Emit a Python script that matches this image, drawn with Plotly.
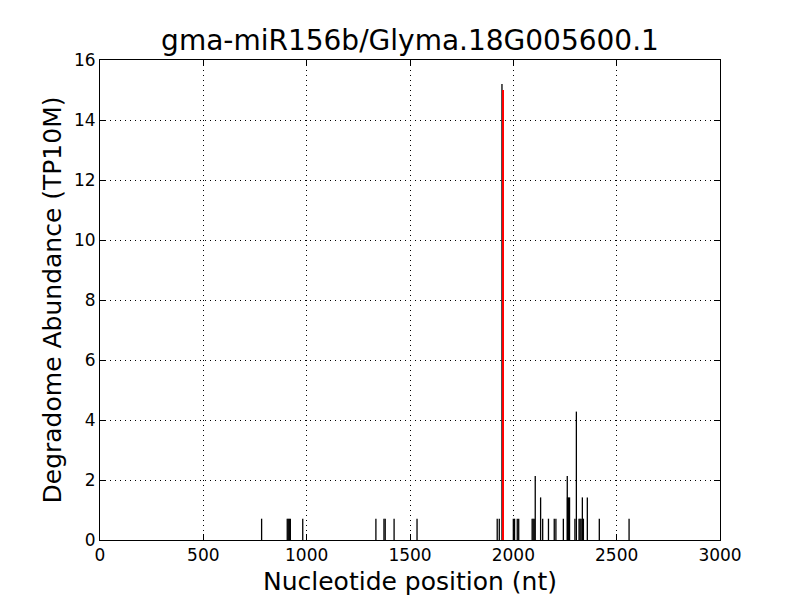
import plotly.graph_objects as go

# Degradome tags: positions (nt) and abundance (TP10M)
positions = [782, 906, 911, 916, 921, 981, 1335, 1374, 1380, 1423, 1534,
             1922, 1932, 1945, 2000, 2006, 2019, 2026, 2091, 2096, 2101, 2106,
             2132, 2142, 2170, 2198, 2206, 2242, 2261, 2262, 2267, 2272,
             2298, 2305, 2318, 2323, 2328, 2334, 2339, 2358, 2416, 2560]
abundance = [0.71, 0.71, 0.71, 0.71, 0.71, 0.71, 0.71, 0.71, 0.71, 0.71, 0.71,
             0.71, 0.71, 15.2, 0.71, 0.71, 0.71, 0.71, 0.71, 0.71, 0.71, 2.13,
             1.42, 0.71, 0.71, 0.71, 0.71, 0.71, 2.13, 1.42, 1.42, 1.42,
             0.71, 4.28, 0.71, 0.71, 0.71, 1.42, 0.71, 1.42, 0.71, 0.71]

# Predicted cleavage site (red)
site_position = [1950]
site_abundance = [15.0]

title = "gma-miR156b/Glyma.18G005600.1"
x_label = "Nucleotide position (nt)"
y_label = "Degradome Abundance (TP10M)"
x_ticks = [0, 500, 1000, 1500, 2000, 2500, 3000]
y_ticks = [0, 2, 4, 6, 8, 10, 12, 14, 16]


def stems(xs, ys):
    sx, sy = [], []
    for x, y in zip(xs, ys):
        sx += [x, x, None]
        sy += [0, y, None]
    return sx, sy


bx, by = stems(positions, abundance)
rx, ry = stems(site_position, site_abundance)

fig = go.Figure()
fig.add_trace(go.Scatter(x=bx, y=by, mode="lines",
                         line=dict(color="black", width=1.3),
                         hoverinfo="skip", showlegend=False))
fig.add_trace(go.Scatter(x=rx, y=ry, mode="lines",
                         line=dict(color="red", width=2.0),
                         hoverinfo="skip", showlegend=False))

font_family = "DejaVu Sans"
axis_common = dict(
    showline=True, linecolor="black", linewidth=1, mirror="allticks",
    ticks="inside", ticklen=6, tickcolor="black", tickwidth=1,
    showgrid=True, gridcolor="black", gridwidth=1, griddash="1px,4px",
    zeroline=False, automargin=False,
    tickfont=dict(family=font_family, size=17, color="black"),
)

# the page body has an 8px margin, so the figure is 8px smaller
fig.update_layout(
    width=792, height=592,
    paper_bgcolor="white", plot_bgcolor="white",
    margin=dict(l=92, r=80, t=52, b=60, autoexpand=False),
    title=dict(text=title, x=0.5, xref="paper", y=0.946, yref="container",
               yanchor="middle", automargin=False,
               font=dict(family=font_family, size=28, color="black")),
    xaxis=dict(range=[0, 3000], tickvals=x_ticks,
               title=dict(text=x_label, standoff=8,
                          font=dict(family=font_family, size=25, color="black")),
               **axis_common),
    yaxis=dict(range=[0, 16], tickvals=y_ticks,
               title=dict(text=y_label, standoff=5,
                          font=dict(family=font_family, size=25, color="black")),
               **axis_common),
)

fig.write_html("out.html")
